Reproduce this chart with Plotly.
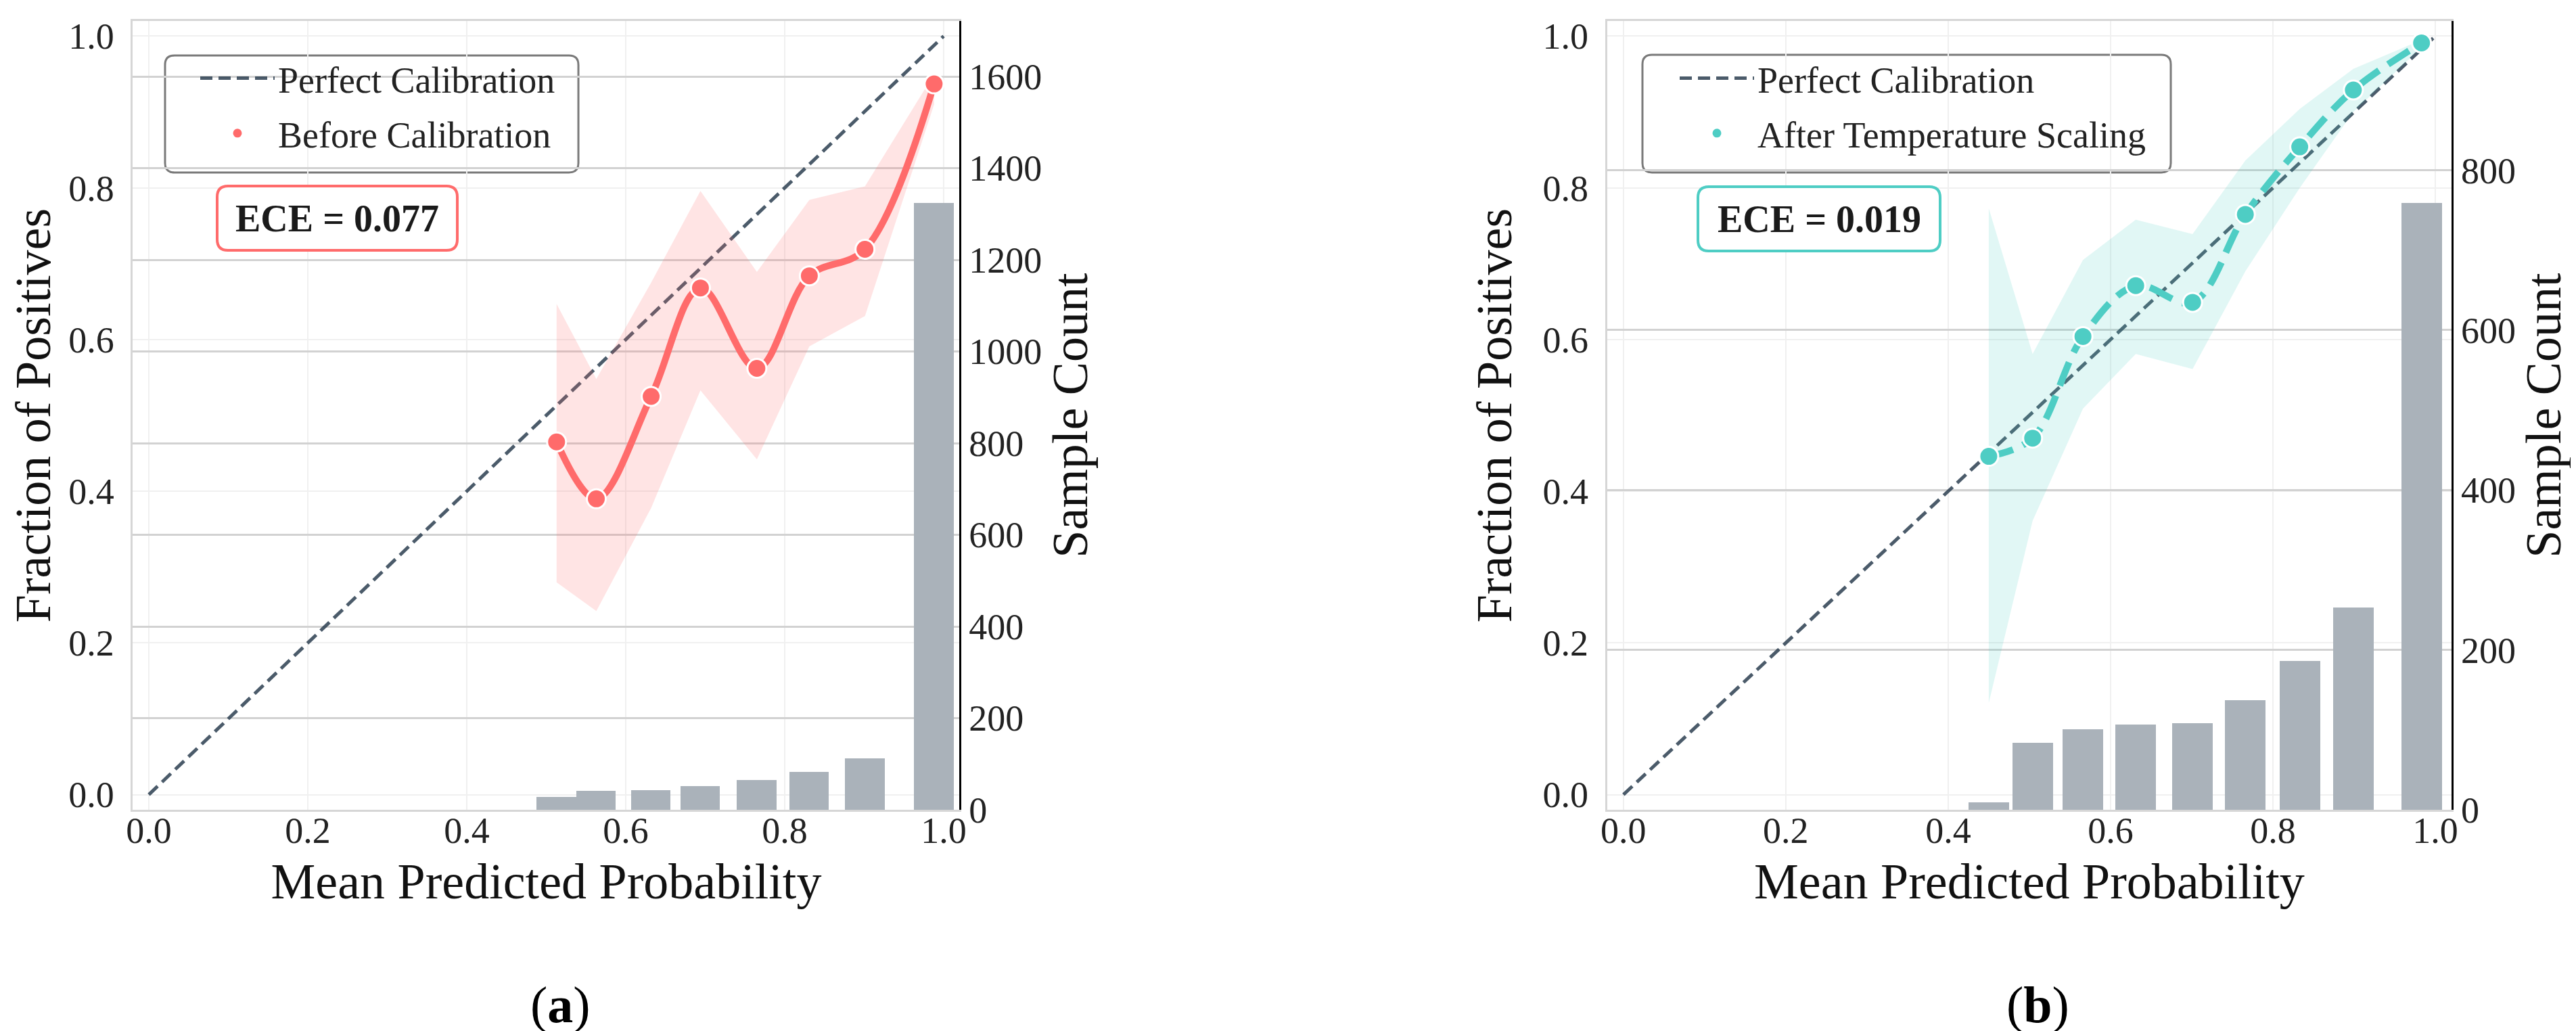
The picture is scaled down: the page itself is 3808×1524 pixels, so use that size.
import plotly.graph_objects as go

# panel (a): before calibration
a_prob = [0.513, 0.563, 0.632, 0.694, 0.765, 0.831, 0.901, 0.988]
a_frac = [0.465, 0.390, 0.525, 0.668, 0.562, 0.684, 0.719, 0.937]
a_low = [0.280, 0.242, 0.378, 0.533, 0.442, 0.591, 0.631, 0.910]
a_high = [0.647, 0.548, 0.675, 0.796, 0.689, 0.784, 0.802, 0.950]
a_count = [28, 41, 43, 52, 65, 83, 112, 1324]
a_ece = 0.077

# panel (b): after temperature scaling
b_prob = [0.450, 0.504, 0.566, 0.631, 0.701, 0.766, 0.833, 0.899, 0.983]
b_frac = [0.446, 0.470, 0.604, 0.671, 0.649, 0.765, 0.854, 0.929, 0.991]
b_low = [0.121, 0.361, 0.509, 0.581, 0.561, 0.690, 0.800, 0.900, 0.985]
b_high = [0.773, 0.581, 0.705, 0.758, 0.739, 0.836, 0.904, 0.957, 0.995]
b_count = [9, 84, 101, 107, 108, 137, 186, 253, 759]
b_ece = 0.019

perfect = [0.0, 1.0]
prob_ticks = [0.0, 0.2, 0.4, 0.6, 0.8, 1.0]

W, H = 3808, 1524
RED = "#FF6B6B"
TEAL = "#4ECDC4"
SLATE = "rgba(44,62,80,0.85)"
BAR = "#AAB2BA"
FONT = "Liberation Serif"

tick_font = dict(family=FONT, size=54, color="#222222")
title_font = dict(family=FONT, size=74, color="#111111")


def round_box(x0, y0, x1, y1, r=14):
    # pixel box (from top-left) -> svg path in paper units, rounded corners
    def p(x, y):
        return f"{x / W:.5f},{1 - y / H:.5f}"
    return (f"M{p(x0 + r, y0)} L{p(x1 - r, y0)} Q{p(x1, y0)} {p(x1, y0 + r)} "
            f"L{p(x1, y1 - r)} Q{p(x1, y1)} {p(x1 - r, y1)} L{p(x0 + r, y1)} "
            f"Q{p(x0, y1)} {p(x0, y1 - r)} L{p(x0, y0 + r)} Q{p(x0, y0)} {p(x0 + r, y0)} Z")


def add_panel(fig, prob, frac, low, high, count, color, fill, label, dash, xa, ya, ya2, leg):
    fig.add_trace(go.Scatter(x=perfect, y=perfect, mode="lines", name="Perfect Calibration",
                             line=dict(color=SLATE, width=5, dash="18px,9px"),
                             xaxis=xa, yaxis=ya, legend=leg, legendgroup=leg + "p"))
    fig.add_trace(go.Scatter(x=prob, y=high, mode="lines", line=dict(width=0),
                             showlegend=False, hoverinfo="skip", xaxis=xa, yaxis=ya))
    fig.add_trace(go.Scatter(x=prob, y=low, mode="lines", line=dict(width=0), fill="tonexty",
                             fillcolor=fill, showlegend=False, hoverinfo="skip", xaxis=xa, yaxis=ya))
    fig.add_trace(go.Scatter(x=prob, y=frac, mode="lines", line_shape="spline",
                             line=dict(color=color, width=10, dash=dash, smoothing=1.0),
                             showlegend=False, xaxis=xa, yaxis=ya))
    fig.add_trace(go.Scatter(x=prob, y=frac, mode="markers", name=label,
                             marker=dict(size=28, color=color, line=dict(color="white", width=3)),
                             xaxis=xa, yaxis=ya, legend=leg, legendgroup=leg + "m"))
    fig.add_trace(go.Bar(x=prob, y=count, width=0.05, marker=dict(color=BAR, line=dict(width=0)),
                         showlegend=False, xaxis=xa, yaxis=ya2))


fig = go.Figure()
add_panel(fig, a_prob, a_frac, a_low, a_high, a_count, RED, "rgba(255,107,107,0.18)",
          "Before Calibration", "solid", "x", "y", "y2", "legend")
add_panel(fig, b_prob, b_frac, b_low, b_high, b_count, TEAL, "rgba(78,205,196,0.17)",
          "After Temperature Scaling", "37px,16px", "x2", "y3", "y4", "legend2")

y_dom = [1 - 1189 / H, 1 - 23 / H]


def x_axis(dom, anchor):
    return dict(domain=dom, anchor=anchor, range=[-0.02, 1.02], tickvals=prob_ticks, tickformat=".1f",
                showgrid=True, gridcolor="#f0f0f0", gridwidth=2, zeroline=False,
                showline=True, linecolor="#d6d6d6", linewidth=3, mirror=True,
                ticks="", tickfont=tick_font, ticklabelstandoff=-19, automargin=False,
                title=dict(text="Mean Predicted Probability", font=title_font, standoff=20))


def y_axis(anchor):
    return dict(domain=y_dom, anchor=anchor, range=[-0.02, 1.02], tickvals=prob_ticks, tickformat=".1f",
                showgrid=True, gridcolor="#f0f0f0", gridwidth=2, zeroline=False,
                showline=True, linecolor="#d6d6d6", linewidth=3,
                ticks="", tickfont=tick_font, ticklabelstandoff=14, automargin=False,
                title=dict(text="Fraction of Positives", font=title_font, standoff=22))


def count_axis(over, anchor, count):
    return dict(overlaying=over, anchor=anchor, side="right", range=[0, max(count) * 1.3], dtick=200,
                showgrid=True, gridcolor="#d2d2d2", gridwidth=3, zeroline=False,
                showline=True, linecolor="black", linewidth=3,
                ticks="", tickfont=tick_font, ticklabelstandoff=0, automargin=False,
                title=dict(text="Sample Count", font=title_font, standoff=16))


legend_style = dict(font=dict(family=FONT, size=54, color="#222222"), bgcolor="rgba(0,0,0,0)",
                    borderwidth=0, xanchor="left", yanchor="top", itemwidth=110,
                    tracegroupgap=8, itemsizing="trace")

fig.update_layout(
    width=W, height=H,
    margin=dict(l=0, r=0, t=0, b=0),
    paper_bgcolor="white", plot_bgcolor="white",
    font=dict(family=FONT),
    bargap=0,
    xaxis=x_axis([0.0495, 0.3704], "y"),
    yaxis=y_axis("x"),
    yaxis2=count_axis("y", "x", a_count),
    xaxis2=x_axis([0.6218, 0.9496], "y3"),
    yaxis3=y_axis("x2"),
    yaxis4=count_axis("y3", "x2", b_count),
    legend=dict(x=283 / W, y=1 - 66 / H, **legend_style),
    legend2=dict(x=2470 / W, y=1 - 66 / H, **legend_style),
    shapes=[
        dict(type="path", xref="paper", yref="paper", path=round_box(236, 74, 847, 247),
             line=dict(color="#7a7a7a", width=3), fillcolor="rgba(255,255,255,0.9)", layer="below"),
        dict(type="path", xref="paper", yref="paper", path=round_box(2420, 73, 3201, 247),
             line=dict(color="#7a7a7a", width=3), fillcolor="rgba(255,255,255,0.9)", layer="below"),
        dict(type="path", xref="paper", yref="paper", path=round_box(313, 267, 668, 362, 16),
             line=dict(color=RED, width=4), fillcolor="white", layer="above"),
        dict(type="path", xref="paper", yref="paper", path=round_box(2502, 268, 2860, 363, 16),
             line=dict(color=TEAL, width=4), fillcolor="white", layer="above"),
    ],
    annotations=[
        dict(text=f"<b>ECE = {a_ece:.3f}</b>", x=490.5 / W, y=1 - 314.5 / H, xref="paper", yref="paper",
             xanchor="center", yanchor="middle", showarrow=False,
             font=dict(family=FONT, size=56, color="#1a1a1a")),
        dict(text=f"<b>ECE = {b_ece:.3f}</b>", x=2681 / W, y=1 - 315.5 / H, xref="paper", yref="paper",
             xanchor="center", yanchor="middle", showarrow=False,
             font=dict(family=FONT, size=56, color="#1a1a1a")),
        dict(text="(<b>a</b>)", x=820 / W, y=1 - 1477 / H, xref="paper", yref="paper",
             xanchor="center", yanchor="middle", showarrow=False,
             font=dict(family=FONT, size=76, color="black")),
        dict(text="(<b>b</b>)", x=3004 / W, y=1 - 1477 / H, xref="paper", yref="paper",
             xanchor="center", yanchor="middle", showarrow=False,
             font=dict(family=FONT, size=76, color="black")),
    ],
)

fig.write_html("out.html")
